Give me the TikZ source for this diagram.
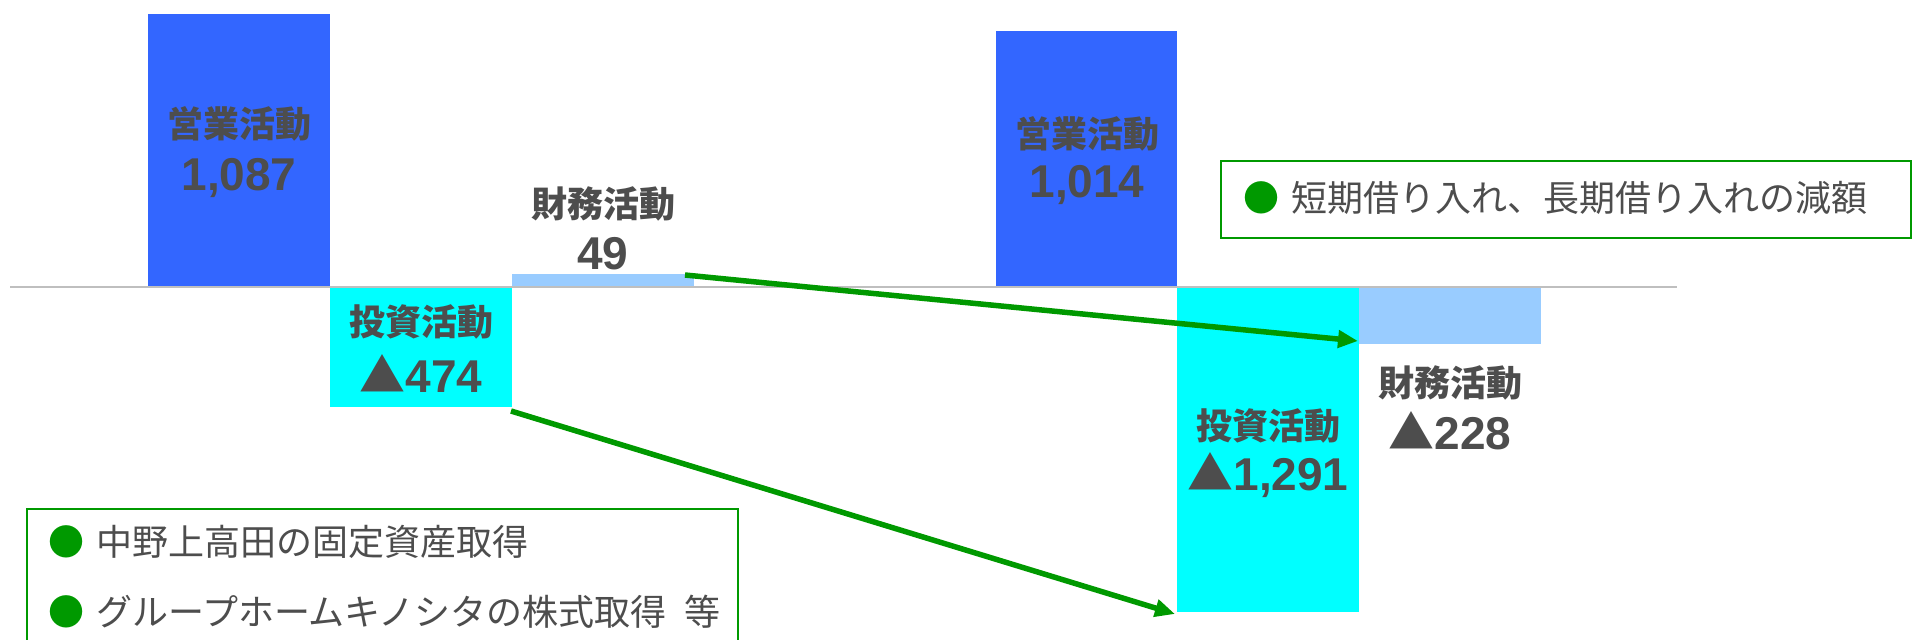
\documentclass[tikz,border=0pt]{standalone}
\usepackage{fontspec}
\setmainfont{Liberation Sans}
\newfontfamily\jp{Noto Sans CJK JP}
\usetikzlibrary{arrows.meta}
\definecolor{opblue}{HTML}{3366FF}
\definecolor{invcyan}{HTML}{00FFFF}
\definecolor{finblue}{HTML}{99CCFF}
\definecolor{arrgreen}{HTML}{009900}
\definecolor{txtgray}{HTML}{4D4D4D}
\definecolor{axisgray}{HTML}{BFBFBF}
\tikzset{
  bar/.style={draw=none, inner sep=0pt, outer sep=0pt, anchor=north west},
  lab/.style={text=txtgray, inner sep=0pt, font=\jp\bfseries\fontsize{36}{40}\selectfont},
  num/.style={text=txtgray, inner sep=0pt, font=\bfseries\fontsize{46}{50}\selectfont},
  notebox/.style={draw=arrgreen, line width=2pt, inner sep=0pt, anchor=north west},
  note/.style={text=txtgray, inner sep=0pt, anchor=west, font=\jp\fontsize{36}{40}\selectfont},
  flow/.style={draw=arrgreen, line width=5.5pt, -{Triangle[length=20pt,width=17pt]}}
}
\newcommand{\tri}{{\jp\bfseries ▲}}
\newcommand{\gdot}{{\color{arrgreen}●}\hspace{12pt}}
\begin{document}
\begin{tikzpicture}[x=1pt,y=-1pt]
\useasboundingbox (0,0) rectangle (1912,640);
\fill[white] (0,0) rectangle (1912,640);
% bars
\node[bar, fill=opblue, minimum width=182pt, minimum height=273pt] (b1) at (148,14) {};
\node[bar, fill=invcyan, minimum width=182pt, minimum height=120pt] (b2) at (330,287) {};
\node[bar, fill=finblue, minimum width=182pt, minimum height=13pt] (b3) at (512,274) {};
\node[bar, fill=opblue, minimum width=181pt, minimum height=256pt] (b4) at (996,31) {};
\node[bar, fill=invcyan, minimum width=182pt, minimum height=325pt] (b5) at (1177,287) {};
\node[bar, fill=finblue, minimum width=182pt, minimum height=57pt] (b6) at (1359,287) {};
% axis
\coordinate (axl) at (10,287);
\coordinate (axr) at (1677,287);
\draw[axisgray, line width=2pt] (axl) -- (axr);
% labels
\node[lab] (t1a) at (239,124) {営業活動};
\node[num] (t1b) at (239,178) {1,087};
\node[lab] (t2a) at (421,322) {投資活動};
\node[num] (t2b) at (421,373) {\tri474};
\node[lab] (t3a) at (603,204) {財務活動};
\node[num] (t3b) at (603,254) {49};
\node[lab] (t4a) at (1087,134) {営業活動};
\node[num] (t4b) at (1087,185) {1,014};
\node[lab] (t5a) at (1268,426) {投資活動};
\node[num] (t5b) at (1268,475) {\tri1,291};
\node[lab] (t6a) at (1450,383) {財務活動};
\node[num] (t6b) at (1450,431) {\tri228};
% note boxes
\node[notebox, minimum width=690pt, minimum height=77pt] (nb1) at (1220,160) {};
\node[note] (n1) at (1243,198) {\gdot 短期借り入れ、長期借り入れの減額};
\node[notebox, minimum width=711pt, minimum height=200pt] (nb2) at (26,508) {};
\node[note] (n2) at (48,542) {\gdot 中野上高田の固定資産取得};
\node[note] (n3) at (48,612) {\gdot グループホームキノシタの株式取得\hspace{18pt}等};
% arrows
\draw[flow] ([xshift=-9pt,yshift=-1pt]b3.north east) -- ([xshift=-1pt,yshift=3pt]b6.south west);
\draw[flow] ([xshift=-1pt,yshift=-4pt]b2.south east) -- ([xshift=-2pt,yshift=-2pt]b5.south west);
\end{tikzpicture}
\end{document}
